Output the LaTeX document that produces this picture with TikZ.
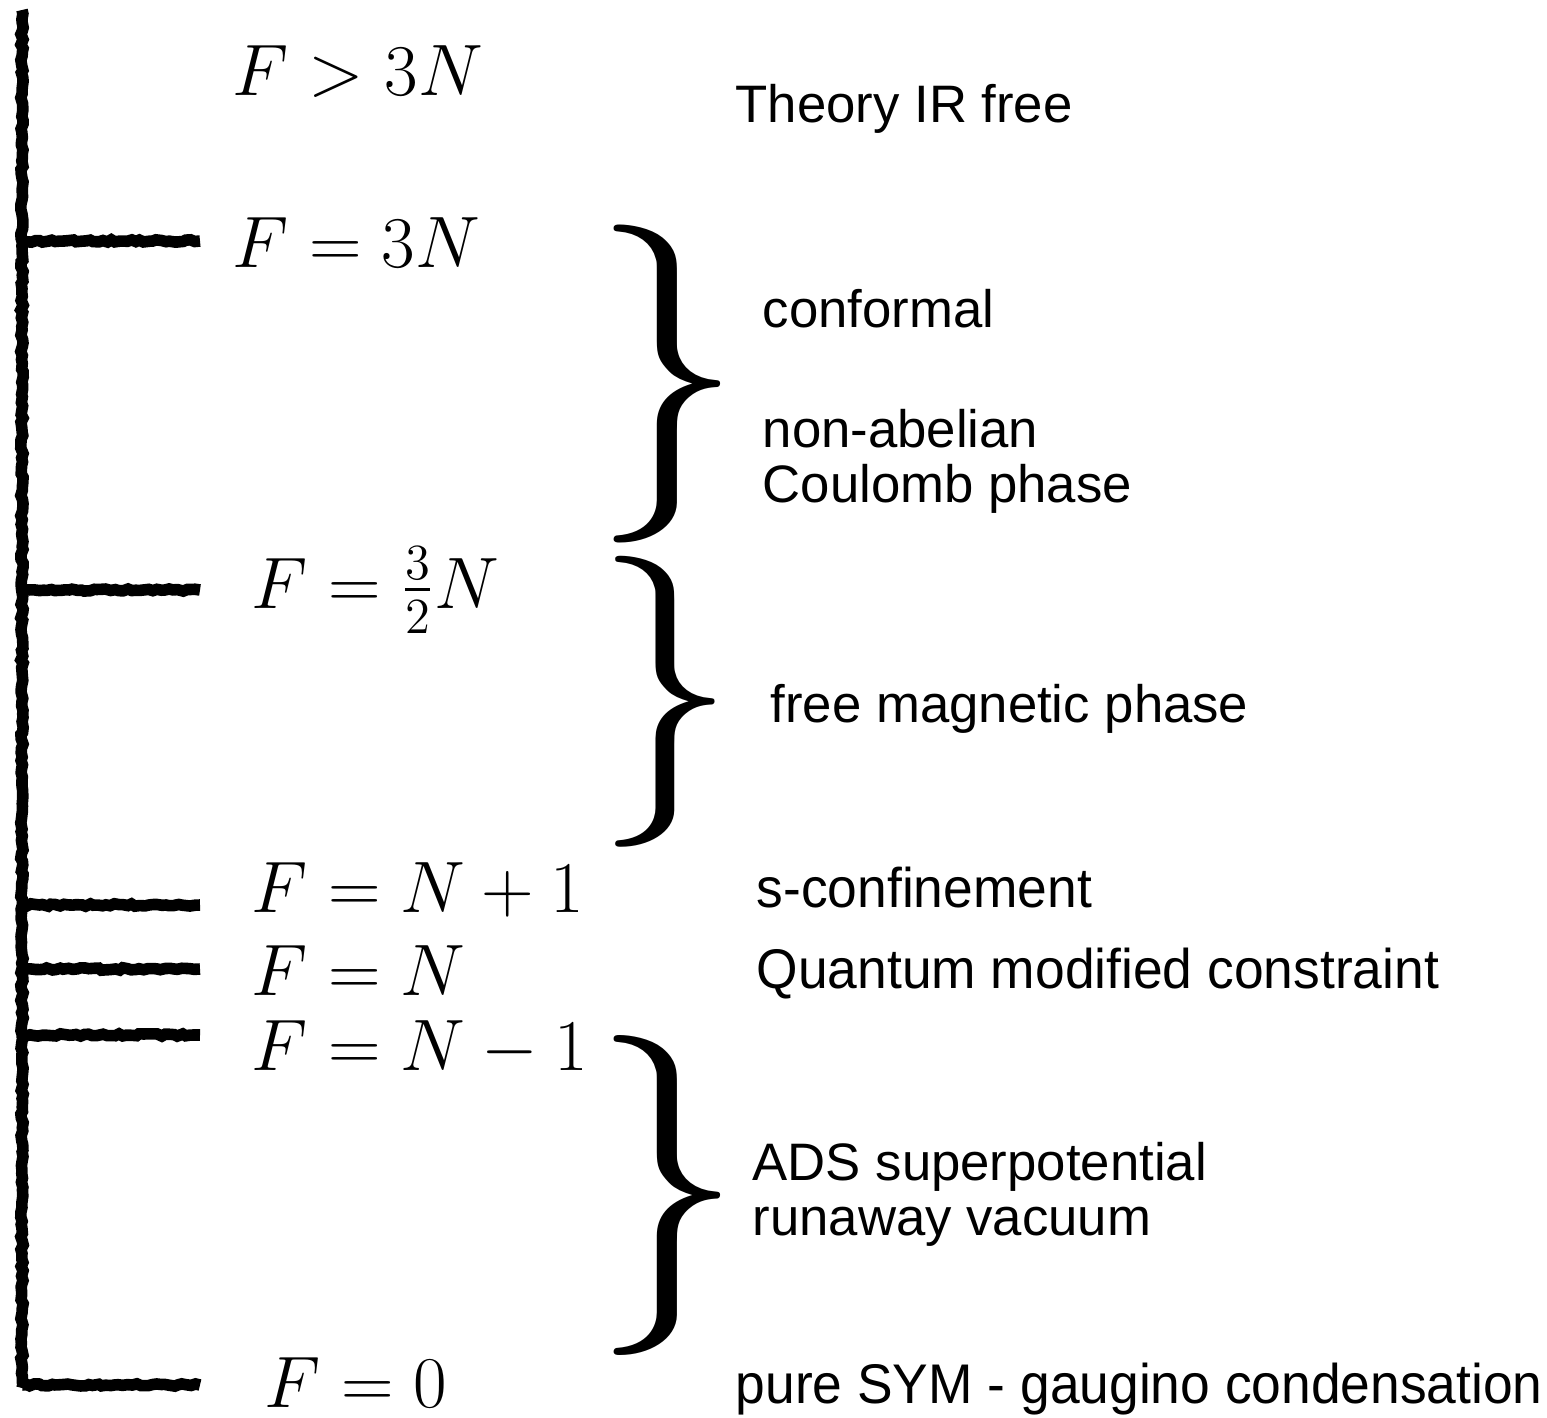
\documentclass[tikz,border=0pt]{standalone}
\usepackage{amsmath}
\usepackage{fontspec}
\usepackage{graphicx}
\usetikzlibrary{positioning,decorations.pathmorphing}
\newfontfamily\labelsf{Liberation Sans}
\newfontfamily\narrowsf[FakeStretch=0.955]{Liberation Sans}
\newcommand{\phasebrace}[2]{\resizebox*{#1}{#2}{$\}$}}

\begin{document}
\begin{tikzpicture}[
  chalk/.style={line width=3.3pt, line cap=butt, draw=black,
                decorate, decoration={random steps, segment length=1.2pt, amplitude=0.35pt}},
  flav/.style={anchor=base west, inner sep=0pt, font=\fontsize{19.6}{24}\selectfont},
  phase/.style={anchor=base west, inner sep=0pt, align=left,
                font=\labelsf\fontsize{15}{15.4}\selectfont},
  tight/.style={anchor=base west, inner sep=0pt,
                font=\narrowsf\fontsize{15.9}{18}\selectfont},
  brace/.style={anchor=west, inner sep=0pt}
]
  \useasboundingbox (0,0) rectangle (15.47,-14.17);

  % axis and ticks
  \coordinate (axtop) at (0.22,-0.10);
  \coordinate (axbot) at (0.22,-13.88);
  \draw[chalk] (axtop) -- (axbot);
  \foreach \y/\n in {2.41/a, 5.90/b, 9.05/c, 9.69/d, 10.35/e, 13.85/f} {
    \coordinate (ax\n) at (0.22,-\y);
    \coordinate (tk\n) at (2.00,-\y);
    \draw[chalk] (ax\n) -- (tk\n);
  }

  % flavour ranges
  \node[flav] (f1) at (2.32,-0.95)  {$F>3N$};
  \node[flav] (f2) at (2.32,-2.67)  {$F=3N$};
  \node[flav] (f3) at (2.51,-6.08)  {$F=\frac{3}{2}N$};
  \node[flav] (f4) at (2.51,-9.12)  {$F=N+1$};
  \node[flav] (f5) at (2.51,-9.95)  {$F=N$};
  \node[flav] (f6) at (2.51,-10.70) {$F=N-1$};
  \node[flav] (f7) at (2.64,-14.07) {$F=0$};

  % braces
  \node[brace] (br1) at (5.92,-3.84)  {\phasebrace{1.50cm}{3.18cm}};
  \node[brace] (br2) at (5.95,-7.02)  {\phasebrace{1.40cm}{2.91cm}};
  \node[brace] (br3) at (5.92,-11.95) {\phasebrace{1.50cm}{3.20cm}};

  % phases
  \node[phase] (p1) at (7.35,-1.22)  {Theory IR free};
  \node[phase] (p2) at (7.62,-3.27)  {conformal};
  \node[phase] (p3) at (7.62,-5.02)  {non-abelian\\Coulomb phase};
  \node[phase] (p4) at (7.70,-7.22)  {free magnetic phase};
  \node[tight] (p5) at (7.56,-9.07)  {s-confinement};
  \node[tight] (p6) at (7.56,-9.88)  {Quantum modified constraint};
  \node[phase] (p7) at (7.52,-12.35) {ADS superpotential\\runaway vacuum};
  \node[tight] (p8) at (7.35,-14.03) {pure SYM - gaugino condensation};
\end{tikzpicture}
\end{document}
